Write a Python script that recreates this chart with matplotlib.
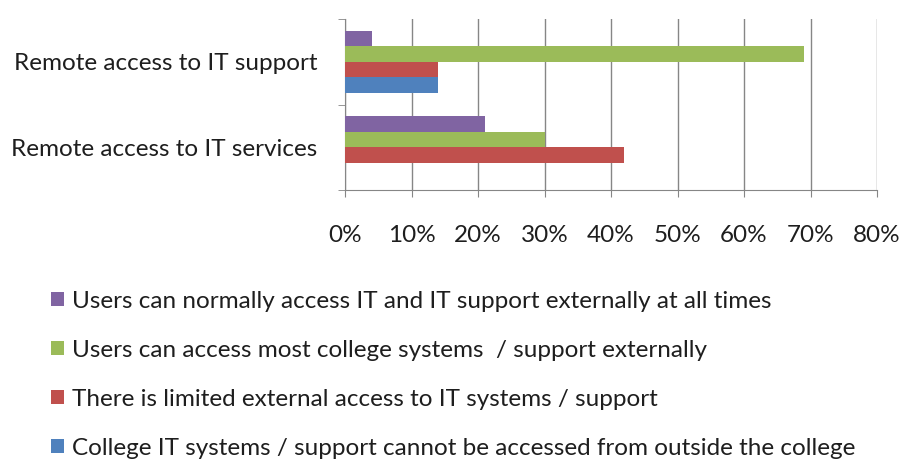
import matplotlib.pyplot as plt
import numpy as np

plt.rcParams['font.family'] = ['Lato', 'DejaVu Sans']

cats = ['Remote access to IT services', 'Remote access to IT support']
series = ['College IT systems / support cannot be accessed from outside the college',
          'There is limited external access to IT systems / support',
          'Users can access most college systems  / support externally',
          'Users can normally access IT and IT support externally at all times']
blue = [0, 14]
red = [42, 14]
green = [30, 69]
purple = [21, 4]
colors = ['#4F81BD', '#C0504D', '#9BBB59', '#8064A2']

fs = 17.5
fig = plt.figure(figsize=(9.01, 4.59), dpi=100)
ax = fig.add_axes([345/901, 1-190/459, (877-345)/901, (190-19)/459])

y = np.arange(len(cats))
h = 0.18
bars = []
for i, (vals, col) in enumerate(zip([blue, red, green, purple], colors)):
    b = ax.barh(y + (i - 1.5)*h, vals, height=h, color=col, zorder=3)
    bars.append(b)

ax.set_xlim(0, 80)
ax.set_ylim(-0.5, 1.5)
ax.set_xticks(range(0, 81, 10))
ax.set_xticklabels([f'{v}%' for v in range(0, 81, 10)], fontsize=fs, color='#1e1e1e')
ax.set_yticks(y)
ax.set_yticklabels(cats, fontsize=fs, color='#1e1e1e')
ax.set_yticks([-0.5, 0.5, 1.5], minor=True)
ax.tick_params(axis='y', which='major', length=0, pad=20)
ax.tick_params(axis='y', which='minor', length=5, color='#868686', direction='out')
ax.tick_params(axis='x', length=5, color='#868686', direction='out', pad=20)
ax.grid(axis='x', color='#868686', linewidth=1, zorder=0)
for s in ['top', 'right']:
    ax.spines[s].set_visible(False)
for s in ['left', 'bottom']:
    ax.spines[s].set_color('#868686')

# легенда снизу, в обратном порядке
leg = fig.legend([bars[3], bars[2], bars[1], bars[0]],
                 [series[3], series[2], series[1], series[0]],
                 loc='upper left', bbox_to_anchor=(34/901, 1-274/459),
                 frameon=False, fontsize=fs, handlelength=0.52, handleheight=0.52,
                 handletextpad=0.35, labelspacing=1.15, borderpad=0.2)
for t in leg.get_texts():
    t.set_color('#1e1e1e')

fig.savefig('out.png', dpi=100)
